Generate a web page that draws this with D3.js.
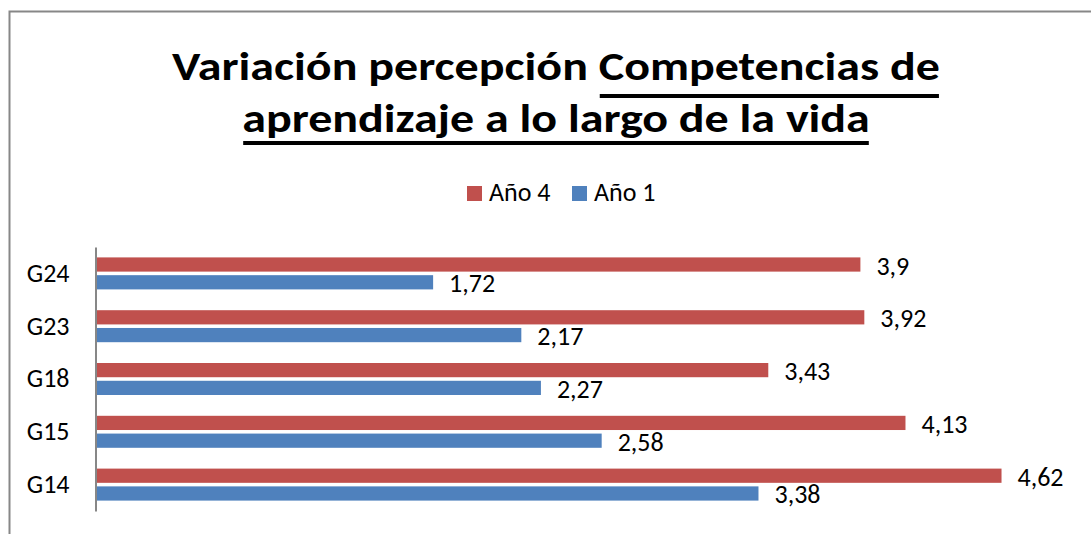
<!DOCTYPE html>
<html>
<head>
<meta charset="utf-8">
<script src="https://cdn.jsdelivr.net/npm/d3@7/dist/d3.min.js"></script>
<style>
  html, body { margin: 0; padding: 0; background: #fff; }
  svg { display: block; font-family: Carlito, Lato, "Open Sans", sans-serif; }
</style>
</head>
<body>
<svg id="chart" width="1091" height="534"></svg>
<script>
// Group labels, top to bottom
const categories = ["G24", "G23", "G18", "G15", "G14"];
// Series names, drawn in this order within each group
const seriesNames = ["Año 4", "Año 1"];
const seriesColors = ["#C0504D", "#4F81BD"];
// Mean perception per group
const year4 = [3.9, 3.92, 3.43, 4.13, 4.62];
const year1 = [1.72, 2.17, 2.27, 2.58, 3.38];

const seriesValues = [year4, year1];
const rows = categories.map((c, i) => ({
  cat: c,
  vals: seriesNames.map((s, k) => ({ name: s, value: seriesValues[k][i], color: seriesColors[k] }))
}));

const svg = d3.select("#chart");
const W = 1091, H = 534;
const labelSize = 26;
svg.append("rect").attr("width", W).attr("height", H).attr("fill", "#fff");

// chart area frame
svg.append("rect")
  .attr("x", 9.5).attr("y", 11.5)
  .attr("width", 1200).attr("height", 600)
  .attr("fill", "none").attr("stroke", "#878787").attr("stroke-width", 2);

// Title: two lines, condensed vertically; underlined parts get a heavy rule
function titleLine(baseline) {
  return svg.append("g")
    .attr("transform", `translate(556,${baseline}) scale(1,0.82)`)
    .append("text")
    .attr("text-anchor", "middle")
    .attr("font-weight", "bold")
    .attr("font-size", 48)
    .attr("fill", "#000");
}
const t1 = titleLine(80);
t1.append("tspan").text("Variación percepción ");
const u1 = t1.append("tspan").text("Competencias de");
const t2 = titleLine(132);
const u2 = t2.append("tspan").text("aprendizaje a lo largo de la vida");

[[u1, 96], [u2, 143]].forEach(([t, yy]) => {
  const b = t.node().getBBox();
  svg.append("line")
    .attr("x1", 556 + b.x + 1).attr("x2", 556 + b.x + b.width - 1)
    .attr("y1", yy).attr("y2", yy)
    .attr("stroke", "#000").attr("stroke-width", 4);
});

// Scales
const x = d3.scaleLinear().domain([0, 5]).range([96, 1076]);
const y0 = d3.scaleBand().domain(categories).range([247, 511])
  .paddingInner(0.394).paddingOuter(0.197);
const y1 = d3.scaleBand().domain(seriesNames).range([0, y0.bandwidth()]).paddingInner(0.2);

// Legend
const legend = svg.append("g").attr("font-size", labelSize);
const legendX = [467, 572];
seriesNames.forEach((s, k) => {
  const g = legend.append("g").attr("transform", `translate(${legendX[k]},186)`);
  g.append("rect").attr("width", 15).attr("height", 15).attr("fill", seriesColors[k]);
  g.append("text").attr("x", 22).attr("y", 15).attr("fill", "#000").text(s);
});

// Bars
const groups = svg.append("g").selectAll("g").data(rows).join("g")
  .attr("transform", d => `translate(0,${y0(d.cat)})`);

groups.selectAll("rect").data(d => d.vals).join("rect")
  .attr("x", x(0))
  .attr("y", d => y1(d.name))
  .attr("width", d => x(d.value) - x(0))
  .attr("height", y1.bandwidth())
  .attr("fill", d => d.color);

// Value labels
const fmt = v => String(v).replace(".", ",");
groups.selectAll("text").data(d => d.vals).join("text")
  .attr("x", d => x(d.value) + 16)
  .attr("y", d => y1(d.name) + y1.bandwidth() / 2 + 1)
  .attr("dominant-baseline", "central")
  .attr("font-size", labelSize)
  .attr("fill", "#000")
  .text(d => fmt(d.value));

// Category axis
const axis = svg.append("g")
  .attr("transform", `translate(95.5,0)`)
  .call(d3.axisLeft(y0).tickSize(0).tickPadding(26));
axis.select(".domain").attr("stroke", "#878787").attr("stroke-width", 2);
axis.selectAll("text").attr("font-size", labelSize).attr("fill", "#000")
  .attr("font-family", "Carlito, Lato, 'Open Sans', sans-serif");
</script>
</body>
</html>
